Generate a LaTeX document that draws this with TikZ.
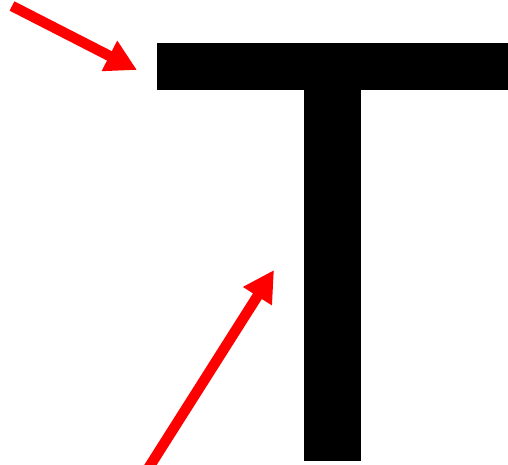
\documentclass[tikz,border=0pt]{standalone}
\usepackage{tikz}
\usepackage{xcolor}
\usetikzlibrary{arrows.meta,positioning}
\definecolor{pointred}{HTML}{FF0000}

\begin{document}
\begin{tikzpicture}[x=1pt,y=-1pt]
  \useasboundingbox (0,0) rectangle (508,465);
  \clip (0,0) rectangle (508,465);
  \tikzset{
    bar/.style={fill=black, draw=none, inner sep=0pt, anchor=north west},
    pointer/.style={draw=pointred, line width=10.5pt,
      -{Triangle[length=31pt,width=32pt]}}
  }
  % the T
  \node[bar, minimum width=360pt, minimum height=47pt] (crossbar) at (157,43) {};
  \node[bar, minimum width=57pt, minimum height=372pt] (stem) at (304,89) {};
  % arrows
  \coordinate (topTail) at (12,6);
  \coordinate (topTip) at (137,70);
  \coordinate (lowTail) at (146,472);
  \coordinate (lowTip) at (274,270);
  \draw[pointer] (topTail) -- (topTip);
  \draw[pointer] (lowTail) -- (lowTip);
\end{tikzpicture}
\end{document}
